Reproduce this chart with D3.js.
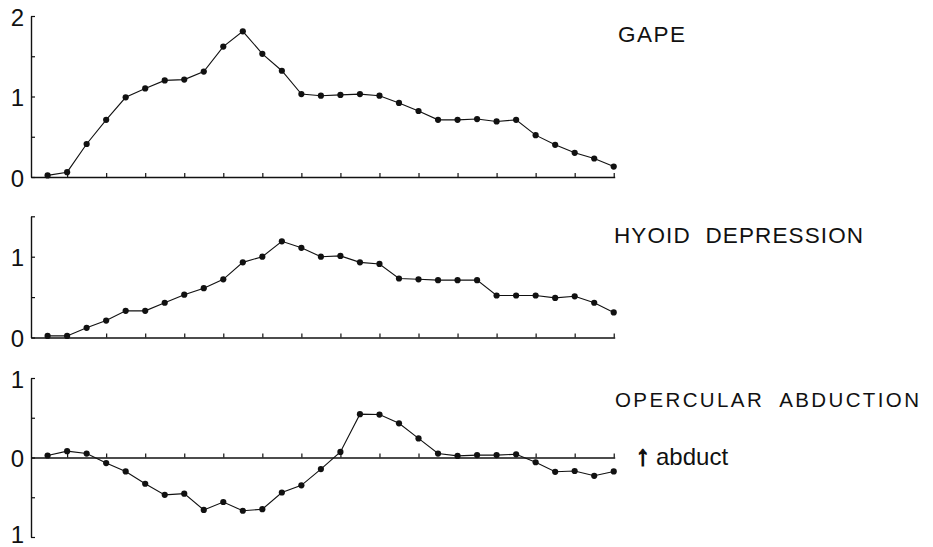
<!DOCTYPE html>
<html>
<head>
<meta charset="utf-8">
<script src="https://cdn.jsdelivr.net/npm/d3@7"></script>
<style>
  html, body { margin: 0; padding: 0; background: #fff; }
  svg { display: block; }
  text { font-family: "Liberation Sans", Arial, Helvetica, sans-serif; fill: #111; }
</style>
</head>
<body>
<svg id="chart" width="933" height="547"></svg>
<script>
// ---- data (time steps 0..29) ----
const timeSteps = d3.range(30);
const gape = [0.02, 0.06, 0.41, 0.71, 0.99, 1.10, 1.20, 1.21, 1.31, 1.62,
              1.81, 1.53, 1.32, 1.03, 1.01, 1.02, 1.03, 1.01, 0.92, 0.82,
              0.71, 0.71, 0.72, 0.69, 0.71, 0.52, 0.40, 0.30, 0.23, 0.13];
const hyoid = [0.02, 0.02, 0.12, 0.21, 0.33, 0.33, 0.43, 0.53, 0.61, 0.72,
               0.93, 1.00, 1.19, 1.11, 1.00, 1.01, 0.93, 0.91, 0.73, 0.72,
               0.71, 0.71, 0.71, 0.52, 0.52, 0.52, 0.49, 0.51, 0.43, 0.31];
const opercular = [0.025, 0.08, 0.05, -0.07, -0.175, -0.33, -0.47, -0.455, -0.66, -0.56,
                   -0.67, -0.65, -0.44, -0.35, -0.146, 0.07, 0.545, 0.54, 0.43, 0.24,
                   0.05, 0.02, 0.03, 0.03, 0.04, -0.06, -0.18, -0.17, -0.23, -0.175];
const xTicks = [1, 3, 5, 7, 9, 11, 13, 15, 17, 19, 21, 23, 25, 27, 29];
const gapeTicks = [0, 0.5, 1, 1.5, 2];
const hyoidTicks = [0, 0.5, 1, 1.5];
const operTicks = [-1, -0.5, 0, 0.5, 1];
const labeledTicks = [-1, 0, 1, 2];
const panelTitles = ["GAPE", "HYOID  DEPRESSION", "OPERCULAR  ABDUCTION"];

const svg = d3.select("#chart");
const ink = "#111";

const x = d3.scaleLinear().domain([-0.85, 29.05]).range([31, 614.7]);

const panels = [
  { values: gape, y: d3.scaleLinear().domain([0, 2]).range([177, 16]), ticks: gapeTicks, zero: 0 },
  { values: hyoid, y: d3.scaleLinear().domain([0, 1.5]).range([337.5, 216.3]), ticks: hyoidTicks, zero: 0 },
  { values: opercular, y: d3.scaleLinear().domain([-1, 1]).range([537, 378]), ticks: operTicks, zero: 0 }
];

panels.forEach((p, i) => {
  const g = svg.append("g");
  // y axis
  const yAxis = d3.axisLeft(p.y)
    .tickValues(p.ticks)
    .tickSizeInner(-4)
    .tickSizeOuter(0)
    .tickPadding(7)
    .tickFormat(d => labeledTicks.includes(d) ? String(Math.abs(d)) : "");
  const ya = g.append("g").attr("transform", `translate(${x(-0.85)},0)`).call(yAxis);
  ya.select(".domain").attr("stroke", ink).attr("stroke-width", 1.4);
  ya.selectAll(".tick line").attr("stroke", ink).attr("stroke-width", 1.2);
  ya.selectAll(".tick text").attr("font-size", 24).attr("fill", ink)
    .attr("font-family", '"Liberation Sans", Arial, sans-serif')
    .attr("dy", d => d === -1 ? "0.22em" : "0.38em");

  // x axis (baseline / zero line), ticks upward
  const xAxis = d3.axisBottom(x)
    .tickValues(xTicks)
    .tickSizeInner(-4)
    .tickSizeOuter(0)
    .tickFormat("");
  const xa = g.append("g").attr("transform", `translate(0,${p.y(p.zero)})`).call(xAxis);
  xa.select(".domain").attr("stroke", ink).attr("stroke-width", 1.4);
  xa.selectAll(".tick line").attr("stroke", ink).attr("stroke-width", 1.2);

  // line
  const line = d3.line().x((d, j) => x(timeSteps[j])).y(d => p.y(d));
  g.append("path").datum(p.values)
    .attr("d", line).attr("fill", "none")
    .attr("stroke", ink).attr("stroke-width", 1.1);
  g.selectAll("circle").data(p.values).join("circle")
    .attr("cx", (d, j) => x(timeSteps[j]))
    .attr("cy", d => p.y(d))
    .attr("r", 3.1).attr("fill", ink);
});

// panel titles
const titlePos = [
  { x: 618, y: 42, size: 22.5, len: 67 },
  { x: 614, y: 243, size: 22.5, len: 249 },
  { x: 615, y: 407, size: 20.5, len: 304 }
];
panelTitles.forEach((t, i) => {
  svg.append("text")
    .attr("x", titlePos[i].x).attr("y", titlePos[i].y)
    .attr("font-size", titlePos[i].size)
    .attr("textLength", titlePos[i].len)
    .attr("lengthAdjust", "spacing")
    .attr("xml:space", "preserve")
    .style("white-space", "pre")
    .text(t);
});

// abduct note
const note = svg.append("text").attr("x", 636).attr("y", 465).attr("font-size", 24);
note.append("tspan").attr("font-size", 28).attr("font-weight", "bold")
  .attr("stroke", ink).attr("stroke-width", 1.3).text("↑");
note.append("tspan").attr("dx", 6).text("abduct");
</script>
</body>
</html>
